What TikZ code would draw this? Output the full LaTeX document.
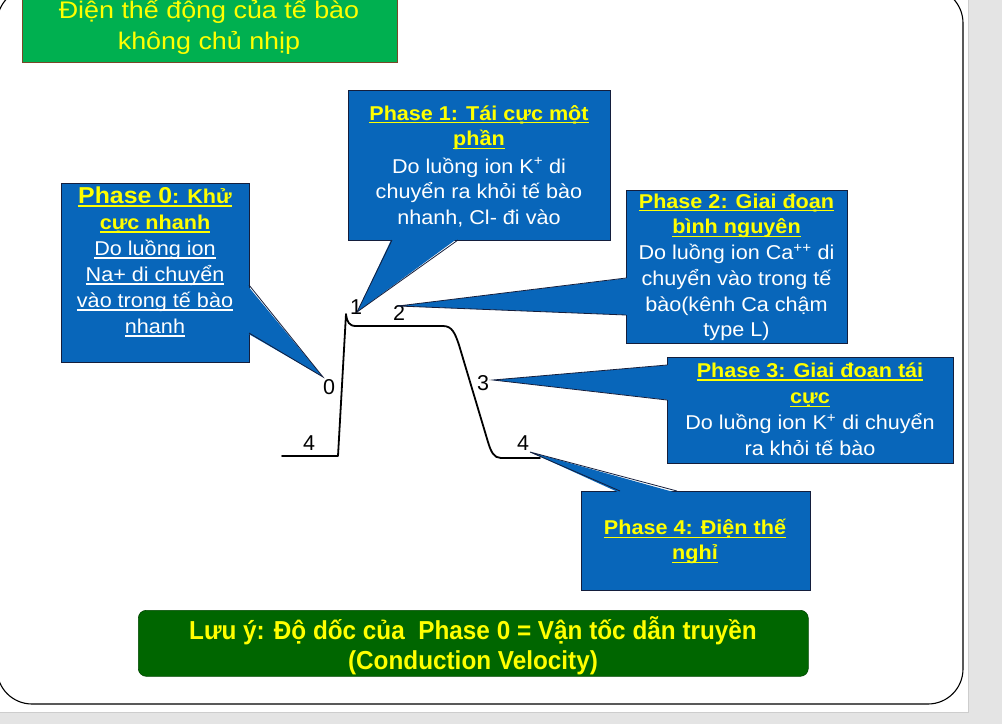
\documentclass[tikz,border=0pt]{standalone}
\usepackage{fontspec}
\usetikzlibrary{calc}
\setmainfont{Liberation Sans}
\newfontfamily\bodyfont[FakeStretch=1.08]{Liberation Sans}
\newfontfamily\titlefont[FakeStretch=1.12]{Liberation Sans}
\newfontfamily\notefont[FakeStretch=0.935]{Liberation Sans}
\newfontfamily\digitfont{Liberation Sans}

\definecolor{cblue}{RGB}{8,102,186}
\definecolor{cline}{RGB}{20,30,60}
\definecolor{tyellow}{RGB}{255,255,0}
\definecolor{titlegreen}{RGB}{0,176,80}
\definecolor{titleline}{RGB}{120,72,40}
\definecolor{notegreen}{RGB}{0,102,0}
\definecolor{pagegray}{RGB}{228,228,228}
\definecolor{edgegray}{RGB}{205,205,205}

% underlined text in the current colour
\newsavebox{\ulinebox}
\newcommand{\ulined}[1]{\sbox{\ulinebox}{#1}\leavevmode\rlap{\rule[-3.2pt]{\wd\ulinebox}{1.2pt}}\usebox{\ulinebox}}
\newcommand{\hd}[1]{{\color{tyellow}\bfseries\ulined{#1}}}

\tikzset{
  callbox/.style={fill=cblue, draw=cline, line width=0.8pt, inner sep=0pt, outer sep=0pt, anchor=north west},
  ctext/.style={text=white, align=center, inner sep=0pt, anchor=north,
    font=\bodyfont\fontsize{20}{#1}\selectfont, execute at begin node=\strut},
  ptrfill/.style={fill=cblue},
  ptredge/.style={draw=cline, line width=0.8pt},
  digit/.style={font=\digitfont\fontsize{21.5}{23}\selectfont, inner sep=0pt},
  apline/.style={draw=black, line width=1.8pt, line join=round, line cap=round},
}

\begin{document}
\begin{tikzpicture}[x=1pt,y=-1pt]
\useasboundingbox (0,0) rectangle (1002,724);
\clip (0,0) rectangle (1002,724);

% page and slide frame
\fill[pagegray] (0,0) rectangle (1002,724);
\fill[white] (0,0) rectangle (968,712);
\draw[edgegray, line width=1pt] (968.5,0) -- (968.5,712.5) -- (0,712.5);
\draw[black, line width=1.1pt, rounded corners=35pt] (-3,-12) rectangle (963,704);

% heading
\node[fill=titlegreen, draw=titleline, line width=0.9pt, inner sep=0pt, anchor=north west,
      minimum width=375pt, minimum height=82pt] (title) at (22,-20) {};
\node[text=tyellow, align=center, inner sep=0pt, anchor=north,
      font=\titlefont\fontsize{24}{31}\selectfont, execute at begin node=\strut]
      (titletxt) at (209,0) {Điện thế động của tế bào\\không chủ nhịp};

% action potential
\draw[apline] (282,456) -- (338,456) -- (346,314)
  .. controls (347,322) and (349,326) .. (356,326) -- (443,326)
  .. controls (452,326) and (455,333) .. (459,345) -- (488,442)
  .. controls (491,452) and (494,458) .. (501,458) -- (540,458);

\node[digit] (d4a) at (309,443) {4};
\node[digit] (d0) at (329,387) {0};
\node[digit] (d1) at (356,307) {1};
\node[digit] (d2) at (399,312.5) {2};
\node[digit] (d3) at (483,383) {3};
\node[digit] (d4b) at (523,443) {4};

% phase 0
\node[callbox, minimum width=188pt, minimum height=179pt] (b0) at (61,183) {};
\coordinate (b0a) at (249,285);
\coordinate (b0b) at (249,333);
\coordinate (b0tip) at (323,377);
\fill[ptrfill] ($(b0a)+(-2,0)$) -- (b0tip) -- ($(b0b)+(-2,0)$) -- cycle;
\draw[ptredge] (b0a) -- (b0tip) -- (b0b);
\node[ctext=26] (t0) at (155,186.5)
  {{\fontsize{23}{26}\selectfont\hd{Phase 0}}\hd{: Khử}\\
   \hd{cực nhanh}\\
   \ulined{Do luồng ion}\\
   \ulined{Na+ di chuyển}\\
   \ulined{vào trong tế bào}\\
   \ulined{nhanh}};

% phase 1
\node[callbox, minimum width=262pt, minimum height=150pt] (b1) at (348,90) {};
\coordinate (b1a) at (392,240);
\coordinate (b1b) at (458,240);
\coordinate (b1tip) at (357,312);
\fill[ptrfill] ($(b1a)+(0,-2)$) -- (b1tip) -- ($(b1b)+(0,-2)$) -- cycle;
\draw[ptredge] (b1a) -- (b1tip) -- (b1b);
\node[ctext=25.5] (t1) at (479,105)
  {\hd{Phase 1: Tái cực một}\\
   \hd{phần}\\[2pt]
   Do luồng ion K\textsuperscript{+} di\\
   chuyển ra khỏi tế bào\\
   nhanh, Cl- đi vào};

% phase 2
\node[callbox, minimum width=221pt, minimum height=153pt] (b2) at (626,190) {};
\coordinate (b2a) at (626,278);
\coordinate (b2b) at (626,315);
\coordinate (b2tip) at (398,306);
\fill[ptrfill] ($(b2a)+(2,0)$) -- (b2tip) -- ($(b2b)+(2,0)$) -- cycle;
\draw[ptredge] (b2a) -- (b2tip) -- (b2b);
\node[ctext=25.7] (t2) at (736.5,193.5)
  {\hd{Phase 2: Giai đoạn}\\
   \hd{bình nguyên}\\
   Do luồng ion Ca\textsuperscript{++} di\\
   chuyển vào trong tế\\
   bào(kênh Ca chậm\\
   type L)};

% phase 3
\node[callbox, minimum width=286pt, minimum height=106pt] (b3) at (667,357) {};
\coordinate (b3a) at (667,365);
\coordinate (b3b) at (667,400);
\coordinate (b3tip) at (493,380);
\fill[ptrfill] ($(b3a)+(2,0)$) -- (b3tip) -- ($(b3b)+(2,0)$) -- cycle;
\draw[ptredge] (b3a) -- (b3tip) -- (b3b);
\node[ctext=26.2] (t3) at (810,362.5)
  {\hd{Phase 3: Giai đoạn tái}\\
   \hd{cực}\\
   Do luồng ion K\textsuperscript{+} di chuyển\\
   ra khỏi tế bào};

% phase 4
\node[callbox, minimum width=229pt, minimum height=99pt] (b4) at (581,491) {};
\coordinate (b4a) at (620,491);
\coordinate (b4b) at (677,491);
\coordinate (b4tip) at (530,452);
\fill[ptrfill] ($(b4a)+(0,2)$) -- (b4tip) -- ($(b4b)+(0,2)$) -- cycle;
\draw[ptredge] (b4a) -- (b4tip) -- (b4b);
\node[ctext=25] (t4) at (695,519)
  {\hd{Phase 4: Điện thế}\\
   \hd{nghỉ}};

% remark
\node[fill=notegreen, draw=notegreen!70!black, line width=0.6pt, rounded corners=8pt,
      inner sep=0pt, anchor=north west, minimum width=670pt, minimum height=66pt]
      (note) at (138,610) {};
\node[text=tyellow, align=center, inner sep=0pt, anchor=north,
      font=\notefont\bfseries\fontsize{26}{29.5}\selectfont, execute at begin node=\strut]
      (notetxt) at (473,616.5)
      {Lưu ý: Độ dốc của~~Phase 0 = Vận tốc dẫn truyền\\(Conduction Velocity)};
\end{tikzpicture}
\end{document}
